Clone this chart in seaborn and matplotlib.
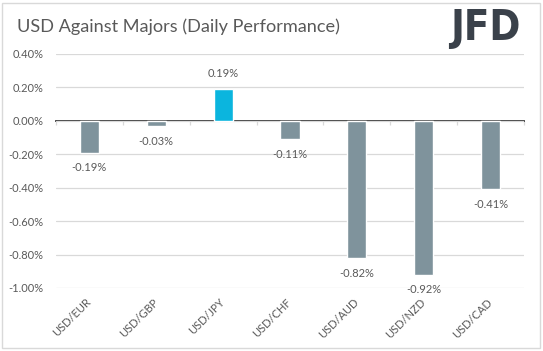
import numpy as np
import pandas as pd
import matplotlib
matplotlib.use('Agg')
import matplotlib.pyplot as plt
import seaborn as sns
from matplotlib.patches import Rectangle

# 데이터
pairs = ['USD/EUR', 'USD/GBP', 'USD/JPY', 'USD/CHF', 'USD/AUD', 'USD/NZD', 'USD/CAD']
perf = [-0.19, -0.03, 0.19, -0.11, -0.82, -0.92, -0.41]
y_ticks = [0.4, 0.2, 0.0, -0.2, -0.4, -0.6, -0.8, -1.0]

df = pd.DataFrame({'pair': pairs, 'perf': perf})

sns.set_theme(style='white')
plt.rcParams['font.family'] = ['Lato', 'DejaVu Sans']

txt_c = '#595959'
grid_c = '#d9d9d9'
gray_bar = '#7f939c'
cyan_bar = '#0bb5de'
colors = [cyan_bar if v > 0 else gray_bar for v in perf]

fig = plt.figure(figsize=(5.43, 3.51), dpi=100)
ax = fig.add_axes([0.1026, 0.1795, 0.863, 0.6667])

sns.barplot(data=df, x='pair', y='perf', hue='pair', palette=colors,
            legend=False, width=0.285, saturation=1, ax=ax)

ax.set_ylim(-1.0, 0.4)
ax.set_xlim(-0.5, len(pairs) - 0.5)
ax.set_yticks(y_ticks)
ax.set_yticklabels([f'{v:.2f}%' for v in y_ticks])
ax.yaxis.grid(True, color=grid_c, linewidth=0.9)
ax.set_axisbelow(True)
for s in ax.spines.values():
    s.set_visible(False)
ax.set_xlabel('')
ax.set_ylabel('')
ax.tick_params(axis='y', length=0, pad=9, labelsize=8, labelcolor=txt_c)
ax.tick_params(axis='x', length=0, pad=9, labelsize=8, labelcolor=txt_c)
for lab in ax.get_xticklabels():
    lab.set_rotation(45)
    lab.set_ha('right')
    lab.set_va('center')
    lab.set_rotation_mode('anchor')

# 0 라인 위의 작은 눈금 (카테고리 경계)
sec = ax.secondary_xaxis(1.0 / 1.4)
sec.set_xticks(np.arange(-0.5, len(pairs), 1.0))
sec.set_xticklabels([])
sec.tick_params(length=3, color=grid_c, width=0.9, direction='out')
sec.spines['bottom'].set_color(grid_c)
sec.spines['bottom'].set_linewidth(0.9)
sec.tick_params(axis='x', bottom=True, top=False)

# 데이터 레이블
for cont in ax.containers:
    ax.bar_label(cont, labels=[f'{b.get_height():.2f}%' for b in cont],
                 padding=7, fontsize=8, color=txt_c)

fig.text(17 / 543, 1 - 27 / 351, 'USD Against Majors (Daily Performance)',
         fontsize=13.1, color=txt_c, ha='left', va='center')

# JFD 로고
fig.text(450 / 543, 1 - 28 / 351, 'JFD', fontsize=30, fontweight='bold',
         fontstretch='condensed', color='#3a414a', ha='left', va='center',
         family='DejaVu Sans')

# 바깥 테두리
fig.patches.append(Rectangle((2 / 543, 3 / 351), 538 / 543, 345 / 351,
                             transform=fig.transFigure, fill=False,
                             edgecolor=grid_c, linewidth=1))

fig.savefig('out.png', dpi=100)
